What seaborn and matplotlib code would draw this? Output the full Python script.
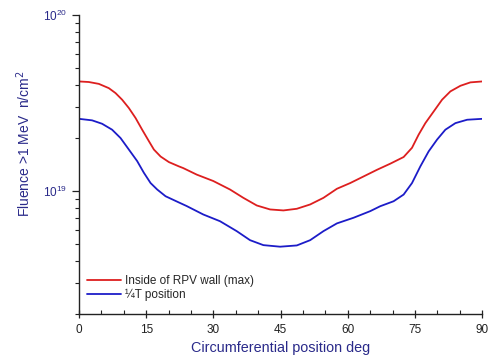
import matplotlib
matplotlib.use("Agg")
import matplotlib.pyplot as plt
import matplotlib.ticker as mticker
import numpy as np
import pandas as pd
import seaborn as sns

# Fast-neutron fluence (>1 MeV) around the vessel circumference
angle_inside = [0, 2.17, 4.41, 6.64, 8.14, 9.62, 11.12, 12.61, 14.09, 15.59, 16.71,
                18.21, 20.06, 22.30, 23.26, 26.26, 29.97, 33.71, 36.68, 39.68,
                42.65, 45.63, 48.62, 51.60, 54.57, 57.57, 60.54, 63.52, 66.52,
                69.49, 72.47, 74.34, 75.82, 77.32, 79.18, 81.05, 82.91, 85.15,
                87.38, 90]
fluence_inside = [4.19e19, 4.16e19, 4.06e19, 3.84e19, 3.60e19, 3.30e19, 2.96e19,
                  2.60e19, 2.23e19, 1.92e19, 1.72e19, 1.57e19, 1.46e19, 1.38e19,
                  1.35e19, 1.24e19, 1.14e19, 1.02e19, 9.15e18, 8.28e18, 7.86e18,
                  7.76e18, 7.93e18, 8.39e18, 9.15e18, 1.03e19, 1.11e19, 1.21e19,
                  1.32e19, 1.43e19, 1.56e19, 1.76e19, 2.09e19, 2.43e19, 2.83e19,
                  3.30e19, 3.68e19, 3.96e19, 4.14e19, 4.19e19]

angle_quarter = [0, 2.91, 5.14, 7.38, 9.26, 11.12, 12.97, 14.47, 15.97, 17.45,
                 19.32, 22.30, 24.02, 27.73, 31.47, 35.20, 38.18, 41.15, 44.89,
                 48.62, 51.60, 54.57, 57.57, 61.28, 65.02, 67.25, 70.23, 72.47,
                 74.34, 76.20, 78.06, 79.94, 81.79, 84.03, 86.65, 90]
fluence_quarter = [2.57e19, 2.52e19, 2.41e19, 2.23e19, 2.00e19, 1.72e19, 1.48e19,
                   1.27e19, 1.11e19, 1.02e19, 9.34e18, 8.61e18, 8.22e18, 7.36e18,
                   6.74e18, 5.92e18, 5.26e18, 4.93e18, 4.83e18, 4.91e18, 5.26e18,
                   5.92e18, 6.55e18, 7.05e18, 7.69e18, 8.20e18, 8.75e18, 9.55e18,
                   1.11e19, 1.38e19, 1.68e19, 1.96e19, 2.23e19, 2.43e19, 2.54e19,
                   2.57e19]

series_names = ["Inside of RPV wall (max)", "\u00bcT position"]
x_ticks = [0, 15, 30, 45, 60, 75, 90]

df = pd.concat([
    pd.DataFrame({"angle": angle_inside, "fluence": fluence_inside, "series": series_names[0]}),
    pd.DataFrame({"angle": angle_quarter, "fluence": fluence_quarter, "series": series_names[1]}),
])

sns.set_style("ticks")
plt.rcParams["font.family"] = ["Liberation Sans", "DejaVu Sans"]

navy = "#2a2a8a"
palette = {series_names[0]: "#dd1f1f", series_names[1]: "#1c1cc8"}

fig = plt.figure(figsize=(4.88, 3.64), dpi=100)
ax = fig.add_axes([0.162, 0.137, 0.826, 0.822])

sns.lineplot(data=df, x="angle", y="fluence", hue="series", palette=palette,
             linewidth=1.3, ax=ax, sort=False, estimator=None)

ax.set_yscale("log")
ax.set_ylim(2.0e18, 1e20)
ax.set_xlim(0, 90)
ax.set_xticks(x_ticks)
ax.xaxis.set_minor_locator(mticker.MultipleLocator(5))
ax.yaxis.set_major_locator(mticker.FixedLocator([1e19, 1e20]))
ax.yaxis.set_minor_locator(mticker.LogLocator(base=10, subs=np.arange(2, 10)))
ax.yaxis.set_minor_formatter(mticker.NullFormatter())

for s in ["top", "right"]:
    ax.spines[s].set_visible(False)
for s in ["left", "bottom"]:
    ax.spines[s].set_color("#222222")
    ax.spines[s].set_linewidth(1.0)

ax.tick_params(axis="x", which="major", direction="inout", length=6, width=0.9,
               labelsize=8.5, colors="#222222", pad=4)
ax.tick_params(axis="x", which="minor", direction="in", length=3, width=0.8,
               colors="#222222")
ax.tick_params(axis="y", which="major", direction="out", length=5, width=0.9,
               labelsize=8.5, labelcolor=navy, colors="#222222")
ax.tick_params(axis="y", which="minor", direction="out", length=3, width=0.8,
               colors="#222222")

ax.set_xlabel("Circumferential position deg", color=navy, fontsize=10.4, labelpad=4)
ax.set_ylabel("Fluence >1 MeV  n/cm$^2$", color=navy, fontsize=10, labelpad=7)
ax.yaxis.label.set_y(0.57)

ax.legend(title=None, loc="lower left", bbox_to_anchor=(0.015, 0.035), frameon=False,
          fontsize=8.5, handlelength=2.8, handletextpad=0.4, labelspacing=0.2,
          borderpad=0.2, borderaxespad=0)

fig.savefig("out.png", dpi=100)
